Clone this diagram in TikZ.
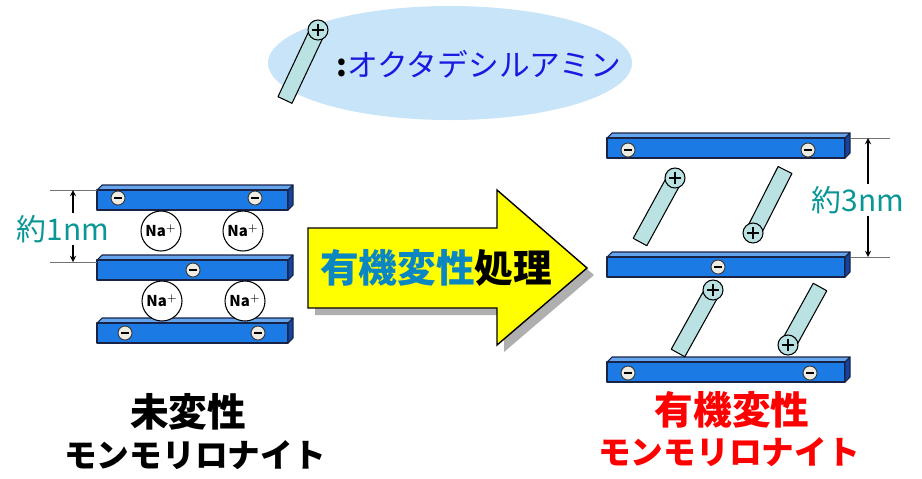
\documentclass[tikz,border=0pt]{standalone}
\usepackage{fontspec}
\setmainfont{Noto Sans CJK JP}
\usetikzlibrary{calc}

\definecolor{haze}{RGB}{200,228,249}
\definecolor{plateblue}{RGB}{28,122,228}
\definecolor{platetop}{RGB}{100,165,238}
\definecolor{plateside}{RGB}{20,68,158}
\definecolor{platedark}{RGB}{25,35,70}
\definecolor{rodfill}{RGB}{186,226,226}
\definecolor{sitefill}{RGB}{238,236,226}
\definecolor{labelteal}{RGB}{10,150,150}
\definecolor{proceteal}{RGB}{10,135,195}
\definecolor{aminblue}{RGB}{25,25,225}
\definecolor{arrowyellow}{RGB}{255,255,0}
\definecolor{shadowgray}{RGB}{175,175,175}

\tikzset{
	plateline/.style={draw=platedark, line width=0.6pt, line join=round},
	site/.style={draw=black!80, fill=sitefill, line width=0.5pt},
	nacat/.style={circle, draw=black, fill=white, line width=0.6pt, minimum size=0.8cm, inner sep=0pt, font=\fontsize{8.5}{8.5}\selectfont\bfseries},
	rodbody/.style={draw=black, fill=rodfill, line width=0.6pt, line join=round},
	dimline/.style={draw=black!55, line width=0.5pt},
	dimarrow/.style={-stealth, line width=0.6pt},
	dimtext/.style={text=labelteal, font=\fontsize{17}{17}\selectfont, inner sep=1pt},
	kanji/.style={font=\fontsize{22}{22}\selectfont\bfseries, inner sep=0pt},
	kana/.style={font=\fontsize{18.6}{18.6}\selectfont\bfseries, inner sep=0pt}
}

% layer: x left, x right, y top (pixel units, y downwards)
\newcommand\plate[3]{%
	\draw[plateline, fill=platetop] ({#1},{-#3-5}) -- ({#1+5},{-#3}) -- ({#2},{-#3}) -- ({#2-5},{-#3-5}) -- cycle;
	\draw[plateline, fill=plateblue] ({#1},{-#3-5}) rectangle ({#2-5},{-#3-25});
	\draw[plateline, fill=plateside] ({#2-5},{-#3-5}) -- ({#2},{-#3}) -- ({#2},{-#3-20}) -- ({#2-5},{-#3-25}) -- cycle;
}
% negative site on a layer
\newcommand\anion[2]{%
	\draw[site] ({#1},{-#2}) circle (7);
	\draw[line width=0.6pt] ({#1-4},{-#2}) -- ({#1+4},{-#2});
}
% amine rod: plain end, then charged end
\newcommand\rod[4]{%
	\draw[rodbody] ($({#1},{-#2})!0.155cm!90:({#3},{-#4})$) -- ($({#1},{-#2})!0.155cm!-90:({#3},{-#4})$)
		-- ($({#3},{-#4})!0.155cm!90:({#1},{-#2})$) -- ($({#3},{-#4})!0.155cm!-90:({#1},{-#2})$) -- cycle;
	\draw[rodbody] ({#3},{-#4}) circle (10);
	\draw[line width=0.6pt] ({#3-6},{-#4}) -- ({#3+6},{-#4}) ({#3},{-#4-6}) -- ({#3},{-#4+6});
}

\begin{document}
\begin{tikzpicture}[x=0.02cm, y=0.02cm]
	\useasboundingbox (0,0) rectangle (922,-478);
	
	%%%%% legend %%%%%
	\fill[haze] (450,-63) ellipse (182 and 57);
	\rod{285}{100}{318}{30}
	\node[anchor=west, inner sep=0pt, font=\fontsize{17.5}{17.5}\selectfont] (amine) at (336,-64)
		{\textcolor{black}{\bfseries :}\textcolor{aminblue}{オクタデシルアミン}};
	
	%%%%% untreated clay %%%%%
	\plate{97}{293}{185}
	\plate{97}{293}{255}
	\plate{97}{293}{318}
	\anion{118}{198}
	\anion{255}{198}
	\anion{193}{270}
	\anion{125}{333}
	\anion{258}{333}
	
	\node[nacat] (na1) at (161,-231) {Na$^{+}$};
	\node[nacat] (na2) at (243,-231) {Na$^{+}$};
	\node[nacat] (na3) at (162,-301) {Na$^{+}$};
	\node[nacat] (na4) at (245,-301) {Na$^{+}$};
	
	\coordinate (la) at (73,-190);
	\coordinate (lb) at (73,-262);
	\draw[dimline] (50,-190) -- (97,-190);
	\draw[dimline] (50,-262) -- (97,-262);
	\node[dimtext] (gap1) at (63,-229) {約1nm};
	\draw[dimarrow] (gap1.north -| la) -- (la);
	\draw[dimarrow] (gap1.south -| lb) -- (lb);
	
	%%%%% process arrow %%%%%
	\fill[shadowgray] (315,-235) -- (504,-235) -- (504,-197) -- (594,-275) -- (504,-352) -- (504,-315) -- (315,-315) -- cycle;
	\draw[fill=arrowyellow, line width=0.8pt, line join=miter] (308,-228) -- (497,-228) -- (497,-190) -- (587,-268) -- (497,-345) -- (497,-308) -- (308,-308) -- cycle;
	\node[kanji, text=proceteal] (proc) at (436,-268) {有機変性\textcolor{black}{処理}};
	
	%%%%% treated clay %%%%%
	\plate{607}{850}{133}
	\plate{607}{850}{252}
	\plate{607}{850}{357}
	\anion{628}{150}
	\anion{808}{150}
	\anion{718}{267}
	\anion{628}{373}
	\anion{810}{373}
	
	\rod{640}{242}{675}{178}
	\rod{785}{170}{753}{233}
	\rod{678}{353}{713}{290}
	\rod{820}{287}{788}{345}
	
	\coordinate (ra) at (868,-138);
	\coordinate (rb) at (868,-257);
	\draw[dimline] (850,-138) -- (890,-138);
	\draw[dimline] (850,-257) -- (890,-257);
	\node[dimtext] (gap3) at (858,-200) {約3nm};
	\draw[dimarrow] (gap3.north -| ra) -- (ra);
	\draw[dimarrow] (gap3.south -| rb) -- (rb);
	
	%%%%% captions %%%%%
	\node[kanji] (raw) at (188,-412) {未変性};
	\node[kana] (rawclay) at (195,-455) {モンモリロナイト};
	\node[kanji, text=red] (mod) at (732,-410) {有機変性};
	\node[kana, text=red] (modclay) at (729,-452) {モンモリロナイト};
\end{tikzpicture}
\end{document}
